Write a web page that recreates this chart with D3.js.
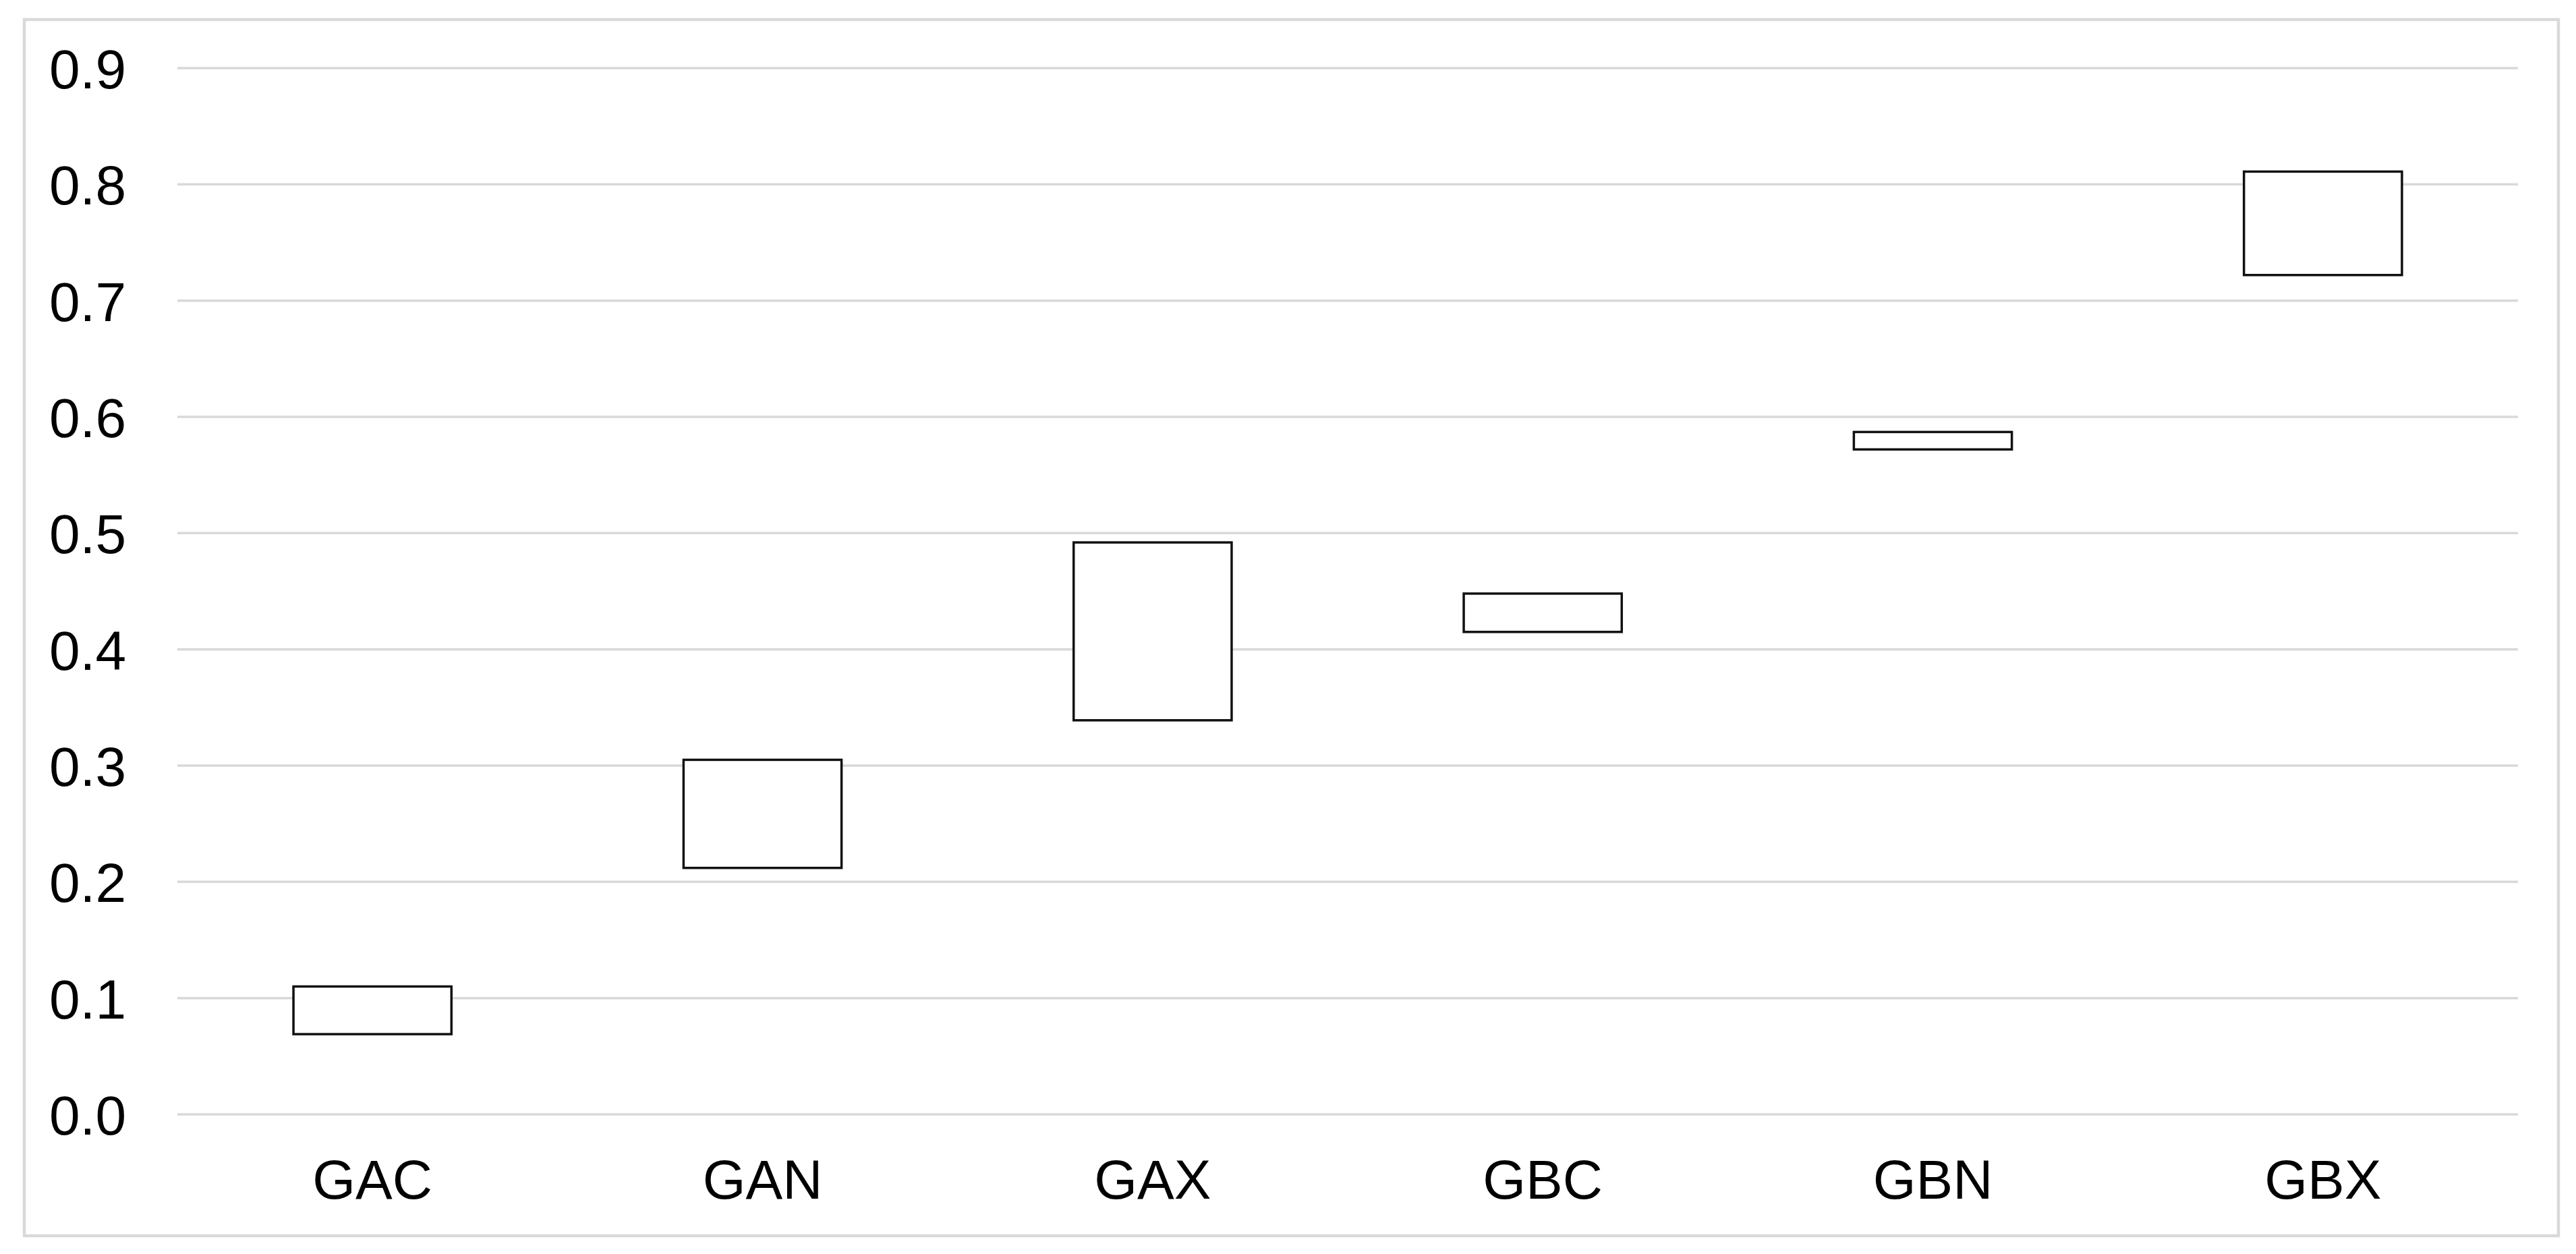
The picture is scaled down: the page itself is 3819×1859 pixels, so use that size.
<!DOCTYPE html>
<html>
<head>
<meta charset="utf-8">
<script src="https://cdn.jsdelivr.net/npm/d3@7"></script>
<style>
  html, body { margin: 0; padding: 0; background: #fff; }
  svg { display: block; }
</style>
</head>
<body>
<svg id="chart" width="3819" height="1859"></svg>
<script>
const categories = ["GAC", "GAN", "GAX", "GBC", "GBN", "GBX"];
const lowValues  = [0.069, 0.212, 0.339, 0.415, 0.572, 0.722];
const highValues = [0.110, 0.305, 0.492, 0.448, 0.587, 0.811];
const yTicks = [0, 0.1, 0.2, 0.3, 0.4, 0.5, 0.6, 0.7, 0.8, 0.9];

const W = 3819, H = 1859;
const plot = { left: 263, right: 3733, top: 101, bottom: 1652 };

const svg = d3.select("#chart");

// outer frame
svg.append("rect")
  .attr("x", 36).attr("y", 29)
  .attr("width", 3793 - 36).attr("height", 1832 - 29)
  .attr("fill", "#fff")
  .attr("stroke", "#d9d9d9")
  .attr("stroke-width", 4.5);

const x = d3.scaleBand()
  .domain(categories)
  .range([plot.left, plot.right])
  .paddingInner(0.595)
  .paddingOuter(0.2975);

const y = d3.scaleLinear()
  .domain([0, 0.9])
  .range([plot.bottom, plot.top]);

// gridlines
svg.append("g")
  .selectAll("line")
  .data(yTicks)
  .join("line")
  .attr("x1", plot.left).attr("x2", plot.right)
  .attr("y1", d => y(d)).attr("y2", d => y(d))
  .attr("stroke", "#d9d9d9")
  .attr("stroke-width", 3.5);

// y axis labels
const yAxis = d3.axisLeft(y).tickValues(yTicks).tickFormat(d3.format(".1f")).tickSize(0).tickPadding(0);
const gy = svg.append("g").attr("transform", "translate(187,0)").call(yAxis);
gy.select(".domain").remove();
gy.selectAll("text")
  .attr("font-family", "'Liberation Sans', Arial, sans-serif")
  .attr("font-size", 82)
  .attr("fill", "#000")
  .attr("dy", "0.36em");

// x axis labels
const xAxis = d3.axisBottom(x).tickSize(0).tickPadding(0);
const gx = svg.append("g").attr("transform", "translate(0,1777)").call(xAxis);
gx.select(".domain").remove();
gx.selectAll("text")
  .attr("font-family", "'Liberation Sans', Arial, sans-serif")
  .attr("font-size", 82)
  .attr("fill", "#000")
  .attr("dy", 0);

// floating boxes
svg.append("g")
  .selectAll("rect")
  .data(categories)
  .join("rect")
  .attr("x", d => x(d))
  .attr("width", x.bandwidth())
  .attr("y", (d, i) => y(highValues[i]))
  .attr("height", (d, i) => y(lowValues[i]) - y(highValues[i]))
  .attr("fill", "#fff")
  .attr("stroke", "#111")
  .attr("stroke-width", 3.5);
</script>
</body>
</html>
